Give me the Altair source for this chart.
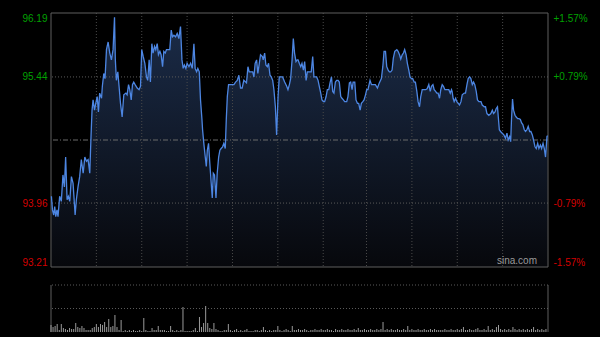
import altair as alt
import pandas as pd

PREV_CLOSE = 94.70
Y_MIN, Y_MAX = 93.21, 96.19
T_MAX = 241
VOL_MAX = 47000

left_ticks = [93.21, 93.96, 95.44, 96.19]
right_labels = ["-1.57%", "-0.79%", "+0.79%", "+1.57%"]
grid_minutes = [22, 44, 66, 88, 110, 132, 153, 175, 197, 219]
price_dotted = [93.96, 95.44]
vol_grid = [23500, 47000]

# (minute, price) readings
seg1 = [(0.2, 94.04), (0.7, 93.88), (1.3, 93.82), (1.8, 93.92), (2.3, 93.80), (2.9, 93.88),
        (3.4, 93.80), (4.2, 94.04), (5.0, 93.98), (5.8, 94.29), (6.5, 94.15), (7.1, 94.50),
        (7.8, 94.00), (8.4, 94.04), (9.1, 93.98), (9.9, 94.27), (10.7, 94.19), (11.7, 93.82),
        (12.3, 94.00), (13.1, 94.15), (13.9, 94.27), (14.7, 94.47), (15.6, 94.31), (16.4, 94.50),
        (17.2, 94.45), (18.0, 94.47), (18.8, 94.31), (19.4, 94.74), (19.9, 95.05), (20.4, 95.17),
        (21.1, 95.05), (21.7, 95.13), (22.4, 95.21), (23.0, 95.03), (23.6, 95.25), (24.5, 95.19),
        (24.9, 95.33), (25.6, 95.48), (26.2, 95.42), (26.9, 95.76), (27.7, 95.85), (28.5, 95.72),
        (29.3, 95.64), (30.1, 95.76), (30.8, 96.14), (31.2, 95.64), (31.7, 95.40), (32.4, 95.50),
        (33.0, 95.33), (33.7, 95.13), (34.5, 94.97), (35.3, 95.23), (36.3, 95.25), (36.9, 95.23),
        (37.6, 95.35), (38.2, 95.29), (38.9, 95.17), (39.5, 95.35), (40.1, 95.38), (40.8, 95.35),
        (41.8, 95.31), (42.7, 95.29), (43.4, 95.33), (44.0, 95.76), (44.7, 95.68), (45.5, 95.60),
        (46.3, 95.44), (46.9, 95.40), (47.6, 95.64), (48.2, 95.38), (48.9, 95.83), (49.5, 95.72),
        (50.2, 95.80), (50.8, 95.76), (51.5, 95.83), (52.1, 95.70), (52.8, 95.74), (53.4, 95.70),
        (54.1, 95.56), (54.7, 95.74), (55.4, 95.72), (56.0, 95.76), (57.0, 95.76), (57.6, 95.76),
        (58.3, 95.99), (58.9, 95.91)]
seg2 = [(59.6, 95.93), (60.4, 95.91), (61.2, 95.95), (62.0, 95.89), (62.8, 96.03), (63.5, 95.64),
        (64.1, 95.54), (64.7, 95.58), (65.4, 95.54), (66.0, 95.60), (66.9, 95.56), (67.7, 95.60),
        (68.5, 95.54), (69.3, 95.83), (69.9, 95.54), (70.6, 95.50), (71.2, 95.54), (71.9, 95.50),
        (72.5, 95.17), (73.2, 94.94), (73.5, 94.82), (74.1, 94.66), (74.8, 94.50), (75.3, 94.39),
        (75.8, 94.58), (76.4, 94.66), (77.0, 94.43), (77.7, 94.19), (78.2, 94.02), (78.7, 94.31),
        (79.3, 94.29), (80.0, 94.02), (80.6, 94.31), (81.3, 94.50), (81.9, 94.58), (82.5, 94.60),
        (83.2, 94.62), (83.8, 94.66), (84.5, 94.60), (85.0, 94.94), (85.5, 95.21), (86.1, 95.35),
        (87.1, 95.35), (88.0, 95.35), (88.7, 95.35), (89.5, 95.38), (90.3, 95.40), (91.1, 95.46),
        (91.9, 95.31), (92.7, 95.31), (93.5, 95.40), (94.4, 95.38), (94.8, 95.37), (95.5, 95.56),
        (96.1, 95.50), (96.8, 95.50), (97.8, 95.50), (98.4, 95.44), (99.0, 95.60), (99.7, 95.64),
        (100.3, 95.48), (101.0, 95.60), (101.6, 95.70), (102.5, 95.68), (102.9, 95.64), (103.6, 95.72),
        (104.2, 95.58), (104.9, 95.56), (105.5, 95.60), (106.2, 95.46), (106.8, 95.44), (107.5, 95.40),
        (108.1, 95.29), (108.8, 95.09), (109.4, 94.76), (110.1, 95.21), (110.7, 95.44), (111.3, 95.44),
        (112.3, 95.44), (113.3, 95.38), (114.3, 95.33), (114.9, 95.29), (115.6, 95.35), (116.2, 95.42),
        (116.9, 95.64), (117.5, 95.89), (118.1, 95.72), (118.8, 95.62), (119.4, 95.64)]
seg3 = [(119.8, 95.64), (120.4, 95.60), (121.1, 95.56), (121.7, 95.60), (122.4, 95.52), (123.0, 95.62),
        (123.7, 95.40), (124.3, 95.50), (125.0, 95.50), (125.6, 95.50), (126.2, 95.50), (126.9, 95.68),
        (127.5, 95.44), (128.2, 95.44), (128.8, 95.44), (129.5, 95.40), (130.1, 95.33), (130.8, 95.25),
        (131.4, 95.17), (132.1, 95.15), (132.7, 95.15), (133.4, 95.21), (134.0, 95.29), (134.7, 95.29),
        (135.3, 95.37), (136.0, 95.44), (136.6, 95.27), (137.2, 95.25), (137.9, 95.38), (138.5, 95.40),
        (139.2, 95.40), (139.8, 95.38), (140.5, 95.21), (141.1, 95.19), (141.8, 95.17), (142.4, 95.15),
        (143.4, 95.15), (144.0, 95.21), (144.7, 95.37), (145.3, 95.38), (146.0, 95.29), (146.5, 95.38),
        (147.3, 95.38), (147.9, 95.17), (148.6, 95.13), (149.2, 95.13), (149.9, 95.05), (150.5, 95.13),
        (151.2, 95.15), (151.8, 95.17), (152.5, 95.23), (153.1, 95.29), (153.7, 95.29), (154.7, 95.40),
        (155.4, 95.35), (156.3, 95.35), (157.3, 95.35), (158.3, 95.31), (159.2, 95.37), (160.2, 95.42),
        (160.9, 95.56), (161.5, 95.74), (162.2, 95.74), (162.8, 95.56), (163.5, 95.52), (164.1, 95.50),
        (164.7, 95.50), (165.4, 95.52), (166.0, 95.66), (166.7, 95.74), (167.7, 95.76), (168.3, 95.74),
        (169.0, 95.70), (169.6, 95.65), (170.3, 95.70), (170.9, 95.72), (171.5, 95.76), (172.2, 95.70),
        (172.8, 95.60), (173.5, 95.52), (174.1, 95.44), (174.8, 95.42), (175.4, 95.42), (176.1, 95.38),
        (176.7, 95.38), (177.4, 95.27), (178.0, 95.15), (178.7, 95.09), (179.3, 95.21)]
seg4 = [(180.0, 95.29), (180.8, 95.29), (181.6, 95.29), (182.4, 95.30), (183.2, 95.35), (183.9, 95.27),
        (184.5, 95.33), (185.2, 95.35), (185.8, 95.29), (186.5, 95.27), (187.1, 95.25), (187.7, 95.25),
        (188.4, 95.19), (189.0, 95.29), (189.7, 95.35), (190.3, 95.33), (191.0, 95.29), (192.0, 95.29),
        (192.9, 95.29), (193.6, 95.25), (194.2, 95.29), (194.5, 95.27), (195.0, 95.19), (195.5, 95.15),
        (196.2, 95.19), (196.8, 95.15), (197.5, 95.13), (198.1, 95.11), (198.8, 95.15), (199.4, 95.23),
        (200.4, 95.25), (201.0, 95.25), (201.7, 95.35), (202.3, 95.42), (203.0, 95.44), (203.6, 95.42),
        (204.3, 95.35), (204.9, 95.38), (205.5, 95.35), (206.2, 95.27), (206.8, 95.17), (207.5, 95.15),
        (208.5, 95.15), (209.1, 95.11), (210.1, 95.09), (210.7, 95.09), (211.4, 95.01), (212.3, 94.99),
        (213.3, 95.01), (214.0, 95.05), (214.6, 95.01), (215.3, 95.03), (215.9, 95.07), (216.5, 95.09),
        (216.9, 94.97), (217.4, 94.82), (218.0, 94.80), (218.8, 94.78), (219.6, 94.76), (220.4, 94.72),
        (221.1, 94.78), (221.7, 94.70), (222.4, 94.74), (222.9, 94.68), (223.3, 94.94), (223.8, 95.18),
        (224.3, 95.05), (225.0, 94.99), (225.6, 94.97), (226.3, 94.95), (226.9, 94.95), (227.6, 94.94),
        (228.2, 94.90), (228.8, 94.88), (229.5, 94.82), (230.1, 94.80), (230.8, 94.82), (231.4, 94.86),
        (232.1, 94.80), (232.7, 94.80), (233.4, 94.76), (234.0, 94.70), (234.7, 94.62), (235.3, 94.60),
        (236.0, 94.66), (236.6, 94.60), (237.3, 94.64), (237.9, 94.60), (238.6, 94.66), (239.2, 94.60),
        (239.8, 94.50), (240.5, 94.74), (240.8, 94.75)]

# volume per minute (lots)
volume = [7000, 5000, 6000, 8000, 2000, 8000, 4000, 3000, 2000, 4000,
          3000, 3000, 9000, 5000, 4000, 6000, 4000, 2000, 2000, 2000,
          4000, 5000, 8000, 5000, 8000, 7000, 10000, 5000, 13000, 5000,
          6000, 17000, 5000, 2000, 12000, 1000, 2000, 1000, 2000, 1000,
          2000, 1000, 1000, 2000, 1000, 14000, 2000, 1000, 1000, 4000,
          2000, 2000, 6000, 2000, 2000, 2000, 1000, 1000, 6000, 2000,
          1000, 2000, 1000, 2000, 25000, 1000, 1000, 1000, 1000, 2000,
          4000, 1000, 15000, 5000, 9000, 26000, 9000, 4000, 3000, 9000,
          3000, 2000, 1000, 1000, 2000, 2000, 8000, 2000, 1000, 2000,
          3000, 1000, 2000, 1000, 2000, 3000, 1000, 1000, 1000, 2000,
          2000, 1000, 2000, 5000, 2000, 1000, 2000, 1000, 2000, 2000,
          6000, 2000, 1000, 2000, 3000, 2000, 1000, 6000, 2000, 2000,
          3000, 2000, 2000, 3000, 2000, 1000, 2000, 2000, 3000, 2000,
          2000, 3000, 2000, 2000, 3000, 2000, 2000, 1000, 3000, 2000,
          2000, 3000, 2000, 2000, 3000, 2000, 2000, 3000, 2000, 4000,
          2000, 2000, 3000, 2000, 2000, 3000, 2000, 2000, 3000, 2000,
          3000, 10000, 2000, 3000, 2000, 3000, 2000, 2000, 3000, 2000,
          2000, 3000, 2000, 6000, 2000, 3000, 2000, 2000, 3000, 2000,
          2000, 3000, 2000, 2000, 3000, 2000, 3000, 2000, 2000, 2000,
          2000, 3000, 2000, 2000, 3000, 2000, 2000, 3000, 2000, 3000,
          5000, 2000, 2000, 3000, 2000, 2000, 3000, 4000, 2000, 2000,
          3000, 2000, 6000, 2000, 3000, 2000, 5000, 7000, 3000, 2000,
          3000, 2000, 3000, 2000, 5000, 3000, 2000, 3000, 2000, 3000,
          2000, 3000, 2000, 3000, 5000, 2000, 3000, 2000, 3000, 2000,
          3000]

GREEN = "#00a000"
RED = "#d40000"
LINE = "#4d86e2"
FONT = "Liberation Sans"

# pixel layout of the single view (plot area spans both panels)
W = 497
H = 319
PRICE_RANGE = [254, 0]
VOL_RANGE = [319, 272]

price_df = pd.DataFrame(seg1 + seg2 + seg3 + seg4, columns=["t", "price"])
vol_df = pd.DataFrame({"t": list(range(len(volume))), "vol": volume})
vgrid_df = pd.DataFrame({"t": grid_minutes, "top": Y_MAX, "bottom": Y_MIN})
hdot_df = pd.DataFrame({"p": price_dotted})
prev_df = pd.DataFrame({"p": [PREV_CLOSE]})
pborder_x_df = pd.DataFrame({"t": [0, T_MAX], "top": Y_MAX, "bottom": Y_MIN})
pborder_y_df = pd.DataFrame({"p": [Y_MIN, Y_MAX]})
vborder_df = pd.DataFrame({"t": [0, T_MAX], "top": VOL_MAX, "bottom": 0})
volgrid_df = pd.DataFrame({"v": vol_grid})
mark_df = pd.DataFrame({"t": [T_MAX], "p": [Y_MIN], "label": ["sina.com"]})

x_scale = alt.Scale(domain=[0, T_MAX], nice=False, zero=False)


def ps():
    return alt.Scale(domain=[Y_MIN, Y_MAX], range=PRICE_RANGE, nice=False, zero=False)


def vs():
    return alt.Scale(domain=[0, VOL_MAX], range=VOL_RANGE, nice=False, zero=True)


label_color = {"condition": {"test": f"datum.value > {PREV_CLOSE}", "value": GREEN}, "value": RED}
mids = [(a + b) / 2 for a, b in zip(left_ticks, left_ticks[1:])]
expr = ""
for m, lab in zip(mids, right_labels[:-1]):
    expr += f"datum.value < {m:.3f} ? '{lab}' : "
expr += f"'{right_labels[-1]}'"

left_axis = alt.Axis(orient="left", values=left_ticks, format=".2f", labelFlush=True,
                     ticks=False, domain=False, grid=False, labelFontSize=10,
                     labelPadding=4, labelColor=label_color, title=None)
right_axis = alt.Axis(orient="right", values=left_ticks, labelExpr=expr, labelFlush=True,
                      ticks=False, domain=False, grid=False, labelFontSize=10,
                      labelPadding=5, labelColor=label_color, title=None)

X = alt.X("t:Q", scale=x_scale, axis=None)

area = alt.Chart(price_df).mark_area(
    line=False,
    color=alt.Gradient(
        gradient="linear",
        stops=[alt.GradientStop(color="#1b2c49", offset=0),
               alt.GradientStop(color="#07080c", offset=1)],
        x1=1, x2=1, y1=0, y2=1),
).encode(x=X, y=alt.Y("price:Q", scale=ps(), axis=left_axis), y2=alt.datum(Y_MIN))

vgrid = alt.Chart(vgrid_df).mark_rule(color="#4a4a4a", strokeDash=[1, 2], strokeWidth=1).encode(
    x=X, y=alt.Y("top:Q", scale=ps(), axis=None), y2="bottom:Q")
hdot = alt.Chart(hdot_df).mark_rule(color="#5a5a5a", strokeDash=[1, 2], strokeWidth=1).encode(
    y=alt.Y("p:Q", scale=ps(), axis=None))
prev = alt.Chart(prev_df).mark_rule(color="#6a6a6a", strokeDash=[5, 2, 1, 2], strokeWidth=1).encode(
    y=alt.Y("p:Q", scale=ps(), axis=None))
pborder_x = alt.Chart(pborder_x_df).mark_rule(color="#5e5e5e", strokeWidth=1).encode(
    x=X, y=alt.Y("top:Q", scale=ps(), axis=None), y2="bottom:Q")
pborder_y = alt.Chart(pborder_y_df).mark_rule(color="#5e5e5e", strokeWidth=1).encode(
    y=alt.Y("p:Q", scale=ps(), axis=None))

line = alt.Chart(price_df).mark_line(color=LINE, strokeWidth=1.3).encode(
    x=X, y=alt.Y("price:Q", scale=ps(), axis=right_axis))

watermark = alt.Chart(mark_df).mark_text(
    align="right", baseline="bottom", dx=-11, dy=-1, fontSize=10, font=FONT, color="#9a9a9a"
).encode(x=X, y=alt.Y("p:Q", scale=ps(), axis=None), text="label:N")

bars = alt.Chart(vol_df).mark_rule(color="#9a9a9a", strokeWidth=1).encode(
    x=X, y=alt.Y("vol:Q", scale=vs(), axis=None), y2=alt.datum(0))
vgridlines = alt.Chart(volgrid_df).mark_rule(color="#5a5a5a", strokeDash=[1, 2], strokeWidth=1).encode(
    y=alt.Y("v:Q", scale=vs(), axis=None))
vborder = alt.Chart(vborder_df).mark_rule(color="#5e5e5e", strokeWidth=1).encode(
    x=X, y=alt.Y("top:Q", scale=vs(), axis=None), y2="bottom:Q")

chart = alt.layer(
    area, vgrid, hdot, prev, pborder_x, pborder_y, watermark, line,
    vgridlines, vborder, bars,
).resolve_scale(y="independent").properties(
    width=W, height=H,
    padding={"left": 51, "top": 13, "right": 52, "bottom": 5},
    autosize=alt.AutoSizeParams(type="none"),
    background="#000000",
).configure_view(strokeWidth=0).configure_axis(labelFont=FONT)

chart.save("out.html", embed_options={"renderer": "svg", "actions": False})
